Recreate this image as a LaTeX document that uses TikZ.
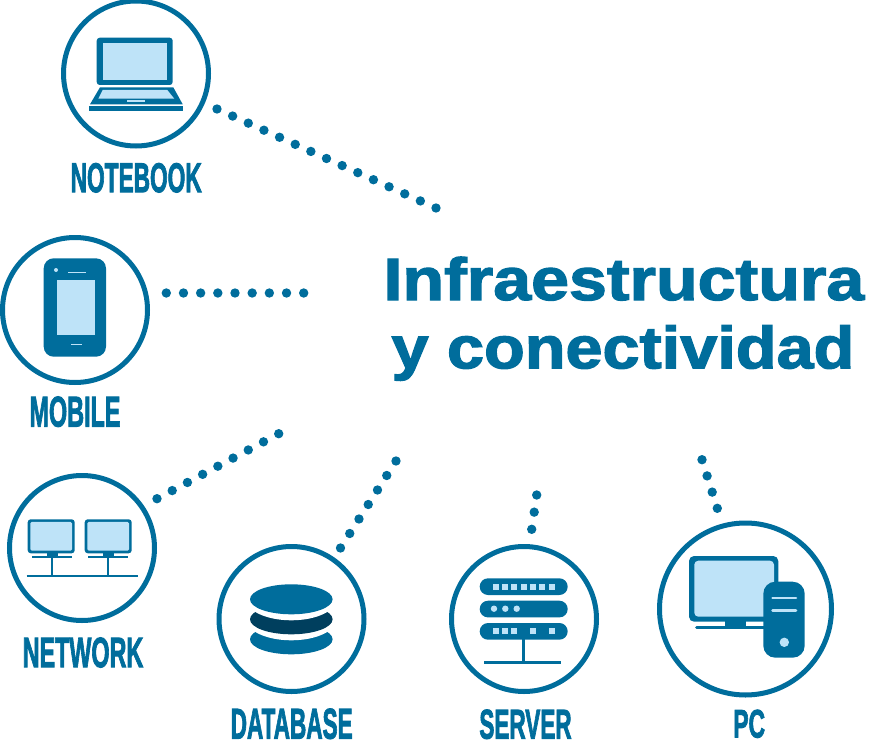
\documentclass[tikz,border=0pt]{standalone}
\usepackage{fontspec}
\usetikzlibrary{calc}
\setmainfont{Liberation Sans}
\newfontfamily\labfont{Liberation Sans}[FakeBold=2.6]
\newfontfamily\titlefont{Liberation Sans}[FakeBold=2.0]
\definecolor{ink}{RGB}{0,109,156}
\definecolor{pale}{RGB}{190,227,248}
\definecolor{deep}{RGB}{0,63,94}
\newcommand{\dotrun}[3]{\foreach \k in {0,...,#3}{\fill[ink] ($(#1)!\k/#3!(#2)$) circle (4.7);}}
\newcommand{\capt}[6]{\node[inner sep=0pt,outer sep=0pt,text=ink] (#1) at (#2,#3) {\resizebox{#4pt}{#5pt}{\labfont\bfseries #6}};}
\tikzset{
  ring/.style={circle,draw=ink,line width=5pt,fill=none,inner sep=0pt,outer sep=0pt,minimum size=145pt},
}
\begin{document}
\begin{tikzpicture}[x=1pt,y=-1pt]
\useasboundingbox (0,0) rectangle (886,741);
% rings
\node[ring] (nb) at (136,73.5) {};
\node[ring] (mo) at (75,310) {};
\node[ring] (ne) at (82,548) {};
\node[ring] (db) at (291.5,619) {};
\node[ring] (sv) at (524,619) {};
\node[ring,minimum size=172pt] (pc) at (745.5,609) {};
% dotted connectors
\coordinate (a1) at (217,109); \coordinate (b1) at (436,208);
\coordinate (a2) at (166.3,293); \coordinate (b2) at (303.7,293);
\coordinate (a3) at (157,498.7); \coordinate (b3) at (278.7,433.7);
\coordinate (a4) at (340.5,548); \coordinate (b4) at (396,461);
\coordinate (a5) at (531.7,529.3); \coordinate (b5) at (536.7,495);
\coordinate (a6) at (717.3,508.3); \coordinate (b6) at (702,459.7);
\dotrun{a1}{b1}{14}
\dotrun{a2}{b2}{8}
\dotrun{a3}{b3}{8}
\dotrun{a4}{b4}{6}
\dotrun{a5}{b5}{2}
\dotrun{a6}{b6}{3}
% notebook
\fill[ink,rounded corners=3pt] (96.7,37.7) rectangle (172.7,85);
\fill[pale] (102.7,43.3) rectangle (166.7,80);
\fill[ink] (100,87.3) -- (173.3,87.3) -- (182.7,104.3) -- (90,104.3) -- cycle;
\fill[pale] (102.7,90) -- (167.3,90) -- (174.3,98.7) -- (98.3,98.7) -- cycle;
\fill[pale] (126.7,99.7) rectangle (145,101.7);
\fill[ink] (89,106) rectangle (183.3,110.7);
% mobile
\fill[ink,rounded corners=10pt] (43.7,258.3) rectangle (106,356.7);
\fill[pale] (57,280) rectangle (95,335);
\fill[pale] (56,270) circle (2);
\fill[pale] (68,271.6) rectangle (85.7,273);
\fill[pale] (71,343.8) rectangle (82,344.8);
% network
\foreach \mx/\st in {27.7/52.3,84.7/108.3}{
  \fill[ink,rounded corners=3pt] (\mx,519.3) rectangle ({\mx+47},553.3);
  \fill[pale,rounded corners=1.5pt] ({\mx+2.6},521.9) rectangle ({\mx+44.4},550.7);
  \fill[ink] ({\st-5.3},553) rectangle ({\st+5.3},556);
  \fill[ink] ({\st-20.5},556.4) rectangle ({\st+20},557.8);
  \draw[ink,line width=1.8pt] (\st,556) -- (\st,576);
}
\draw[ink,line width=2.3pt] (26.7,576.3) -- (138,576.3);
% database
\fill[ink] (291.3,639.3) ellipse (41.3 and 15);
\fill[white] (291.3,619.3) ellipse (45 and 21);
\fill[deep] (291.3,619.3) ellipse (41.3 and 15);
\fill[white] (291.3,599.3) ellipse (45 and 21);
\fill[ink] (291.3,599.3) ellipse (41.3 and 15);
% server
\foreach \ty in {578.3,600.7,623}{
  \fill[ink,rounded corners=8.3pt] (479.7,\ty) rectangle (567.7,{\ty+16.7});
}
\foreach \sx in {496,505,514.3,523.7,533,542.3,551.7}{
  \fill[pale] ({\sx-3},583.7) rectangle ({\sx+3},589.7);
}
\foreach \sx in {494,505.3,516.7}{ \fill[pale] (\sx,608.7) circle (3.2); }
\foreach \sx in {496,505,514.3,533,551.7}{
  \fill[pale] ({\sx-3},628.3) rectangle ({\sx+3},634.3);
}
\draw[ink,line width=3.5pt] (523.3,639) -- (523.3,662);
\draw[ink,line width=3pt] (484,662.7) -- (560.7,662.7);
% pc
\fill[ink,rounded corners=5pt] (689,556) rectangle (778.3,621.7);
\fill[pale,rounded corners=4pt] (694.3,560.7) rectangle (774,616.7);
\fill[ink] (725.3,621) rectangle (745.7,627);
\draw[ink,line width=2.7pt,line cap=round] (696.5,627.7) -- (768,627.7);
\fill[ink,rounded corners=12pt] (763.3,581.7) rectangle (804.7,657.7);
\draw[pale,line width=2.5pt,line cap=round] (772.5,598) -- (796,598);
\draw[pale,line width=2.5pt,line cap=round] (772.5,610.3) -- (796,610.3);
\fill[pale] (784.3,642.3) circle (4.7);
% labels
\capt{l1}{136.2}{177.8}{131}{29}{NOTEBOOK}
\capt{l2}{75}{411.7}{91}{30}{MOBILE}
\capt{l3}{83}{652.5}{120.6}{29.6}{NETWORK}
\capt{l4}{291.7}{723.8}{122}{30}{DATABASE}
\capt{l5}{525.5}{724.3}{92.2}{29}{SERVER}
\capt{l6}{749.2}{723.8}{31.7}{27.7}{PC}
% title
\node[inner sep=0pt,outer sep=0pt,anchor=base west,text=ink] (t1) at (383.5,300) {\scalebox{1.143}[1]{\titlefont\fontsize{59.6pt}{60pt}\selectfont\bfseries Infraestructura}};
\node[inner sep=0pt,outer sep=0pt,anchor=base west,text=ink] (t2) at (391.5,368.3) {\scalebox{1.118}[1]{\titlefont\fontsize{59.6pt}{60pt}\selectfont\bfseries y conectividad}};
\end{tikzpicture}
\end{document}
